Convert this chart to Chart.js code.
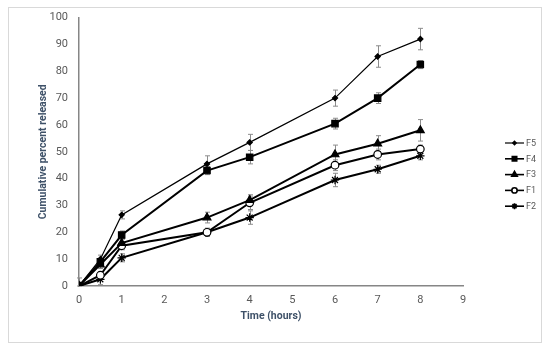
<!DOCTYPE html>
<html lang="en">
<head>
    <meta charset="UTF-8">
    <title>Cumulative release</title>
    <style>
        body { margin: 0; background: #fff; }
        #wrap { width: 550px; height: 349px; }
    </style>
    <script src="https://cdn.jsdelivr.net/npm/chart.js"></script>
</head>
<body>
    <div id="wrap"><canvas id="release-chart" width="550" height="349"></canvas></div>
    <script>
        // time points (hours)
        const hours = [0, 0.5, 1, 3, 4, 6, 7, 8];

        // cumulative % released
        const f5 = [0, 10, 26.5, 45.5, 53.5, 70, 85.5, 92];
        const f4 = [0, 9, 19, 43, 48, 60.5, 70, 82.5];
        const f3 = [0, 8, 16, 25.5, 32, 49, 53, 58];
        const f1 = [0, 4, 15, 20, 31, 45, 49, 51];
        const f2 = [0, 2.5, 10.5, 20, 25.5, 39.5, 43.5, 48.5];

        // error bar half-heights
        const f5Err = [3, 1.5, 1.5, 3, 3, 3, 4, 4];
        const f4Err = [0, 1, 1.5, 1.5, 2.5, 2, 2, 1.5];
        const f3Err = [0, 1.5, 1.5, 2, 2, 3.5, 3, 4];
        const f1Err = [0, 1, 1.5, 1.5, 2.5, 2, 2, 1.5];
        const f2Err = [0, 2, 1.5, 1.5, 2.5, 2.5, 1.5, 1.5];

        const xTicks = [0, 1, 2, 3, 4, 5, 6, 7, 8, 9];
        const yTicks = [0, 10, 20, 30, 40, 50, 60, 70, 80, 90, 100];

        const labelFont = "'Roboto', sans-serif";

        function toPoints(values) {
            return values.map((v, i) => ({ x: hours[i], y: v }));
        }

        function series(label, values, err, style, radius, lineWidth, fill) {
            return {
                label: label,
                data: toPoints(values),
                err: err,
                borderColor: '#000',
                borderWidth: lineWidth,
                backgroundColor: fill ? '#000' : '#fff',
                pointBackgroundColor: fill ? '#000' : '#fff',
                pointBorderColor: '#000',
                pointBorderWidth: 1.2,
                pointStyle: style,
                pointRadius: radius,
                pointRotation: 0,
                tension: 0,
                fill: false,
            };
        }

        // grey error bars behind the markers
        const errorBars = {
            id: 'errorBars',
            beforeDatasetsDraw(chart) {
                const ctx = chart.ctx;
                const xs = chart.scales.x, ys = chart.scales.y;
                ctx.save();
                ctx.strokeStyle = '#8c8c8c';
                ctx.lineWidth = 1;
                chart.data.datasets.forEach(ds => {
                    ds.data.forEach((p, i) => {
                        const e = ds.err[i];
                        if (!e) return;
                        const px = Math.round(xs.getPixelForValue(p.x)) + 0.5;
                        const top = ys.getPixelForValue(p.y + e);
                        const bot = ys.getPixelForValue(Math.max(0, p.y - e));
                        ctx.beginPath();
                        ctx.moveTo(px, top); ctx.lineTo(px, bot);
                        ctx.moveTo(px - 2.5, top); ctx.lineTo(px + 2.5, top);
                        ctx.moveTo(px - 2.5, bot); ctx.lineTo(px + 2.5, bot);
                        ctx.stroke();
                    });
                });
                ctx.restore();
            }
        };

        // outer frame and the line+marker legend on the right
        const frameAndLegend = {
            id: 'frameAndLegend',
            beforeDraw(chart) {
                const ctx = chart.ctx;
                ctx.save();
                ctx.strokeStyle = '#d9d9d9';
                ctx.lineWidth = 1;
                ctx.strokeRect(8.5, 7.5, 533, 335);
                ctx.restore();
            },
            afterDraw(chart) {
                const ctx = chart.ctx;
                ctx.save();
                chart.data.datasets.forEach((ds, i) => {
                    const y = 143 + i * 15.8;
                    ctx.strokeStyle = '#000';
                    ctx.lineWidth = Math.min(ds.borderWidth, 1.6);
                    ctx.beginPath();
                    ctx.moveTo(505, y); ctx.lineTo(524, y);
                    ctx.stroke();
                    ctx.fillStyle = ds.pointBackgroundColor;
                    ctx.strokeStyle = '#000';
                    Chart.helpers.drawPoint(ctx, {
                        pointStyle: ds.pointStyle,
                        radius: ds.pointRadius * 0.7,
                        rotation: 0,
                        borderWidth: 1,
                    }, 514.5, y);
                    ctx.fillStyle = '#595959';
                    ctx.font = "9px " + labelFont;
                    ctx.textBaseline = 'middle';
                    ctx.fillText(ds.label, 526, y + 0.5);
                });
                ctx.restore();
            }
        };

        const ctx = document.getElementById('release-chart').getContext('2d');
        const chart = new Chart(ctx, {
            type: 'line',
            data: {
                datasets: [
                    series('F5', f5, f5Err, 'rectRot', 2.6, 1.2, true),
                    series('F4', f4, f4Err, 'rect', 4.5, 2, true),
                    series('F3', f3, f3Err, 'triangle', 4.5, 2, true),
                    series('F1', f1, f1Err, 'circle', 3.8, 2, false),
                    series('F2', f2, f2Err, 'star', 4.2, 2, false),
                ],
            },
            options: {
                responsive: false,
                animation: false,
                layout: { padding: { left: 0, top: 17, right: 87, bottom: 0 } },
                plugins: {
                    legend: { display: false },
                    tooltip: { enabled: false },
                },
                scales: {
                    x: {
                        type: 'linear',
                        min: 0,
                        max: 9,
                        afterBuildTicks: s => { s.ticks = xTicks.map(v => ({ value: v })); },
                        afterFit: s => { s.height = 63; },
                        grid: { display: false, drawTicks: false },
                        border: { color: '#868686', width: 1.5 },
                        ticks: {
                            color: '#595959',
                            padding: 8,
                            font: { family: labelFont, size: 11 },
                        },
                        title: {
                            display: true,
                            text: 'Time (hours)',
                            color: '#3e5168',
                            padding: { top: 0, bottom: 26 },
                            font: { family: labelFont, size: 10.5, weight: 'bold' },
                        },
                    },
                    y: {
                        min: 0,
                        max: 100,
                        afterBuildTicks: s => { s.ticks = yTicks.map(v => ({ value: v })); },
                        afterFit: s => { s.width = 79; },
                        grid: { display: false, drawTicks: false },
                        border: { color: '#868686', width: 1.5 },
                        ticks: {
                            color: '#595959',
                            padding: 11,
                            font: { family: labelFont, size: 11 },
                        },
                        title: {
                            display: true,
                            text: 'Cumulative percent released',
                            color: '#3e5168',
                            padding: { top: 37, bottom: 0 },
                            font: { family: labelFont, size: 10.5, weight: 'bold' },
                        },
                    },
                },
            },
            plugins: [errorBars, frameAndLegend],
        });
    </script>
</body>
</html>
